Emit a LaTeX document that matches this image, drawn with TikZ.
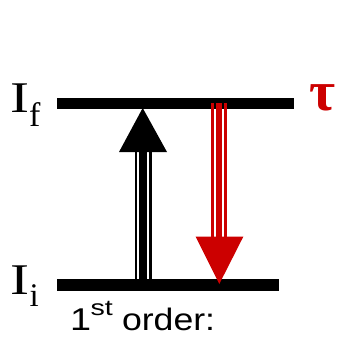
\documentclass[tikz,border=0pt]{standalone}
\usepackage{fontspec}
\setmainfont{Liberation Serif}
\newfontfamily\arialf{Liberation Sans}
\newfontfamily\taufont{Liberation Serif}
\definecolor{tred}{HTML}{CC0000}
\begin{document}
\begin{tikzpicture}[x=1pt,y=-1pt,
  levelbar/.style={fill=black},
  lbl/.style={anchor=base west,inner sep=0pt,outer sep=0pt}]
\useasboundingbox (0,0) rectangle (340,337);
% levels
\fill[levelbar] (57,98) rectangle (294,109);
\fill[levelbar] (57,279) rectangle (279,291);
% black upward arrow
\coordinate (bu) at (142.7,108);
\fill[black] (bu) -- (119,152) -- (167,152) -- cycle;
\fill[black] (135,151) rectangle (137.3,279);
\fill[black] (139.3,151) rectangle (146.7,279);
\fill[black] (149,151) rectangle (151.7,279);
% red downward arrow
\coordinate (rd) at (219.3,284);
\fill[tred] (211,103) rectangle (213.7,237.5);
\fill[tred] (216,103) rectangle (221.7,237.5);
\fill[tred] (224,103) rectangle (227,237.5);
\fill[tred] (195.7,236.7) -- (243.3,236.7) -- (rd) -- cycle;
% labels
\node[lbl] (lfI) at (10.5,112.3) {\scalebox{1.3}[1]{\fontsize{43.8}{43.8}\selectfont I}};
\node[lbl] (lfs) at (29,126.7) {\fontsize{34}{34}\selectfont f};
\node[lbl] (liI) at (10.5,294) {\scalebox{1.3}[1]{\fontsize{43.8}{43.8}\selectfont I}};
\node[lbl] (lis) at (29.5,306.7) {\fontsize{33}{33}\selectfont i};
\node[inner sep=0pt,text=tred] (tau) at (322.5,97.5) {\resizebox{26pt}{!}{\taufont\bfseries τ}};
\node[lbl] (o1) at (70,330.7) {\arialf\scalebox{1.2}[1]{\fontsize{31.5}{31.5}\selectfont 1}};
\node[lbl] (ost) at (90.5,315.5) {\arialf\scalebox{1.3}[1]{\fontsize{22}{22}\selectfont st}};
\node[lbl] (oword) at (122,330.7) {\arialf\scalebox{1.15}[1]{\fontsize{31}{31}\selectfont order:}};
\end{tikzpicture}
\end{document}
